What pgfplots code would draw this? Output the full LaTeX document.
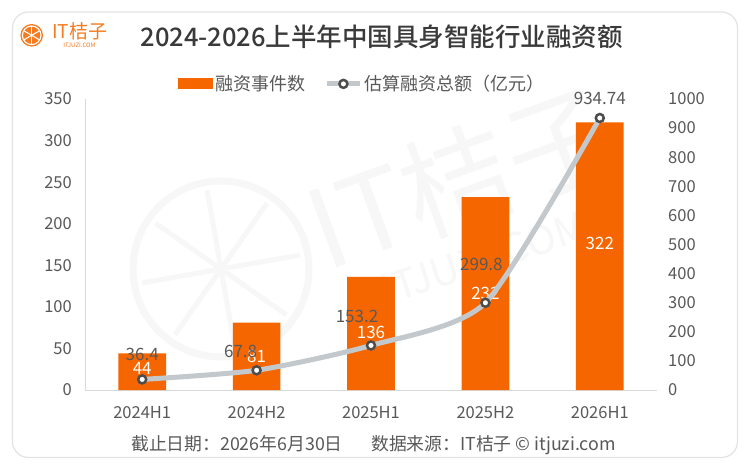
\documentclass[border=0pt]{standalone}
\usepackage{fontspec}
\setmainfont{Noto Sans CJK SC}
\newfontfamily\titlefont{Noto Sans CJK SC}[UprightFont=* Medium]
\usepackage{pgfplots}
\usepackage{pgfplotstable}
\pgfplotsset{compat=1.18}

\definecolor{barorange}{HTML}{F56600}
\definecolor{linegrey}{HTML}{C3C8CC}
\definecolor{markgrey}{HTML}{4D4D4D}
\definecolor{txtgrey}{HTML}{595959}
\definecolor{titlegrey}{HTML}{3A3A3A}
\definecolor{cardborder}{HTML}{E3E3E3}
\definecolor{axisgrey}{HTML}{D9D9D9}
\definecolor{wm}{HTML}{F7F7F7}
\definecolor{logoorange}{HTML}{F47B20}

\newcommand\fs[1]{\fontsize{#1bp}{#1bp}\selectfont}

\pgfplotstableread{
x n dy
0 44 -14.6
1 81 -34
2 136 -56
3 232 -96
4 322 -121
}\bars

\pgfplotstableread{
x v dx dy
0 36.4 0 25
1 67.8 -16 19
2 153.2 -14 29
3 299.8 -4 38
4 934.74 0 20
}\amount

\begin{document}
\begin{tikzpicture}
\path[use as bounding box, fill=white] (0,0) rectangle (750bp,-467bp);
\draw[cardborder, line width=1.2bp, rounded corners=16bp] (12.5bp,-12bp) rectangle (737.5bp,-457.5bp);

% watermark
\draw[wm, line width=7bp] (221bp,-269bp) circle (88bp);
\foreach \a in {10,55,100,145,190,235,280,325}
  \draw[wm, line width=5bp] (221bp,-269bp) -- ++(\a:80bp);
\node[wm, rotate=20] at (462bp,-178bp) {\fs{110}IT桔子};
\node[wm, rotate=18] at (484bp,-258bp) {\fs{40}ITJUZI.COM};

% logo
\fill[logoorange] (31.7bp,-35.3bp) circle (11.3bp);
\draw[white, line width=1.1bp] (31.7bp,-35.3bp) circle (9.3bp);
\foreach \a in {90,30,150}
  \draw[white, line width=1.1bp] (31.7bp,-35.3bp) ++(\a:9.5bp) -- ++(\a+180:19bp);
\node[anchor=west, inner sep=0pt, text=logoorange] at (52bp,-31bp) {\fs{19}IT桔子};
\node[inner sep=0pt, text=logoorange] at (79.5bp,-45.5bp) {\fs{6}ITJUZI.COM};

% title
\node[text=titlegrey] at (381.7bp,-36.5bp) {\titlefont\fs{25.5}2024-2026上半年中国具身智能行业融资额};

\begin{axis}[
  at={(85bp,-390bp)}, anchor=south west,
  scale only axis, width=572bp, height=291bp,
  xmin=-0.5, xmax=4.5, ymin=0, ymax=350,
  ytick={0,50,...,350},
  xtick={0,...,4}, xticklabels={2024H1,2024H2,2025H1,2025H2,2026H1},
  axis x line*=bottom, axis y line*=left,
  axis line style={draw=axisgrey, line width=1bp},
  major tick length=0pt,
  tick label style={font=\fs{16.5}, text=txtgrey},
  yticklabel style={inner sep=0pt, anchor=east, xshift=-13bp},
  xticklabel style={inner sep=0pt, anchor=north, yshift=-16bp},
  /pgf/number format/assume math mode=true,
  /pgf/number format/1000 sep={},
  ybar, bar width=47.7bp,
  clip=false,
  legend style={at={(0.485,1.052)}, anchor=center, draw=none, fill=none,
    font=\fs{18}, text=txtgrey, legend columns=2,
    /tikz/every even column/.append style={column sep=17bp}},
]
\addplot[fill=barorange, draw=none,
  nodes near coords,
  visualization depends on={\thisrow{dy}\as\dy},
  every node near coord/.append style={anchor=center, yshift=\dy bp, font=\fs{17}, text=white},
  legend image code/.code={\fill[barorange] (0bp,-5.5bp) rectangle (35bp,5.5bp);}
] table[x=x, y=n, meta=n] {\bars};
\addlegendentry{融资事件数}
\addlegendimage{legend image code/.code={
  \draw[linegrey, line width=5bp] (0bp,0bp) -- (33bp,0bp);
  \draw[markgrey, line width=2.5bp, fill=white] (16.5bp,0bp) circle (4bp);}}
\addlegendentry{估算融资总额（亿元）}
\end{axis}

\begin{axis}[
  at={(85bp,-390bp)}, anchor=south west,
  scale only axis, width=572bp, height=291bp,
  xmin=-0.5, xmax=4.5, ymin=0, ymax=1000,
  ytick={0,100,...,1000},
  axis x line=none, axis y line*=right,
  y axis line style={draw=none},
  major tick length=0pt,
  tick label style={font=\fs{16.5}, text=txtgrey},
  yticklabel style={inner sep=0pt, anchor=west, xshift=11bp},
  /pgf/number format/assume math mode=true,
  /pgf/number format/1000 sep={},
  clip=false,
]
\addplot[linegrey, line width=5bp, smooth, tension=0.4,
  mark=*, mark size=4bp, mark options={draw=markgrey, fill=white, line width=2.5bp},
  nodes near coords,
  visualization depends on={\thisrow{dx}\as\dx},
  visualization depends on={\thisrow{dy}\as\dyy},
  every node near coord/.append style={anchor=center, xshift=\dx bp, yshift=\dyy bp, font=\fs{17}, text=txtgrey}
] table[x=x, y=v, meta=v] {\amount};
\end{axis}

\node[text=txtgrey] at (373.5bp,-445bp) {\fs{17.8}截止日期：2026年6月30日\hspace{1.6em}数据来源：IT桔子 © itjuzi.com};
\end{tikzpicture}
\end{document}
